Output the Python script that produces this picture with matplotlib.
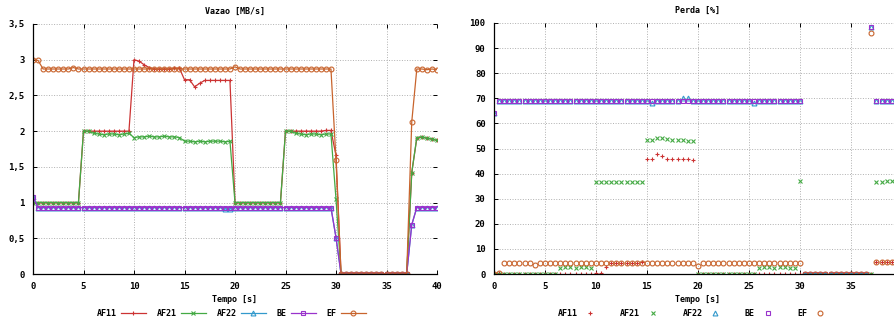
import numpy as np
import matplotlib
matplotlib.use("Agg")
import matplotlib.pyplot as plt
from matplotlib.ticker import FuncFormatter

plt.rcParams['font.family'] = ['DejaVu Sans Mono']
plt.rcParams['font.weight'] = 'bold'

# amostras a cada 0,5 s (0 .. 40 s)
tempo = np.arange(0, 40.5, 0.5)
classes = ['AF11', 'AF21', 'AF22', 'BE', 'EF']

# Vazao [MB/s]
vaz_af11 = [1.0, 1.0, 1.0, 1.0, 1.0, 1.0, 1.0, 1.0, 1.0, 1.0,
            2.0, 2.0, 2.0, 2.0, 2.0, 2.0, 2.0, 2.0, 2.0, 2.0,
            3.0, 2.98, 2.93, 2.89, 2.87, 2.87, 2.87, 2.87, 2.88, 2.88,
            2.72, 2.72, 2.62, 2.67, 2.71, 2.71, 2.71, 2.71, 2.71, 2.71,
            1.0, 1.0, 1.0, 1.0, 1.0, 1.0, 1.0, 1.0, 1.0, 1.0,
            2.0, 2.0, 2.0, 2.0, 2.0, 2.0, 2.0, 2.0, 2.01, 2.01,
            1.66, 0, 0, 0, 0, 0, 0, 0, 0, 0,
            0, 0, 0, 0, 0, 1.42, 1.90, 1.92, 1.90, 1.89,
            1.87]
vaz_af21 = [1.0, 1.0, 1.0, 1.0, 1.0, 1.0, 1.0, 1.0, 1.0, 1.0,
            2.0, 2.0, 1.97, 1.96, 1.95, 1.96, 1.96, 1.95, 1.96, 1.97,
            1.91, 1.92, 1.92, 1.93, 1.92, 1.92, 1.93, 1.92, 1.92, 1.91,
            1.86, 1.86, 1.85, 1.86, 1.85, 1.86, 1.86, 1.86, 1.85, 1.86,
            1.0, 1.0, 1.0, 1.0, 1.0, 1.0, 1.0, 1.0, 1.0, 1.0,
            2.0, 2.0, 1.97, 1.96, 1.95, 1.96, 1.96, 1.95, 1.96, 1.96,
            1.05, 0, 0, 0, 0, 0, 0, 0, 0, 0,
            0, 0, 0, 0, 0, 1.42, 1.91, 1.92, 1.90, 1.89,
            1.87]
vaz_af22 = [1.08, 0.93, 0.93, 0.93, 0.93, 0.93, 0.93, 0.93, 0.93, 0.93,
            0.93, 0.93, 0.93, 0.93, 0.93, 0.93, 0.93, 0.93, 0.93, 0.93,
            0.93, 0.93, 0.93, 0.93, 0.93, 0.93, 0.93, 0.93, 0.93, 0.93,
            0.93, 0.93, 0.93, 0.93, 0.93, 0.93, 0.93, 0.93, 0.91, 0.91,
            0.93, 0.93, 0.93, 0.93, 0.93, 0.93, 0.93, 0.93, 0.93, 0.93,
            0.93, 0.93, 0.93, 0.93, 0.93, 0.93, 0.93, 0.93, 0.93, 0.93,
            0.51, 0, 0, 0, 0, 0, 0, 0, 0, 0,
            0, 0, 0, 0, 0, 0.69, 0.93, 0.93, 0.93, 0.93,
            0.93]
vaz_be = [1.08, 0.93, 0.93, 0.93, 0.93, 0.93, 0.93, 0.93, 0.93, 0.93,
          0.93, 0.93, 0.93, 0.93, 0.93, 0.93, 0.93, 0.93, 0.93, 0.93,
          0.93, 0.93, 0.93, 0.93, 0.93, 0.93, 0.93, 0.93, 0.93, 0.93,
          0.93, 0.93, 0.93, 0.93, 0.93, 0.93, 0.93, 0.93, 0.93, 0.93,
          0.93, 0.93, 0.93, 0.93, 0.93, 0.93, 0.93, 0.93, 0.93, 0.93,
          0.93, 0.93, 0.93, 0.93, 0.93, 0.93, 0.93, 0.93, 0.93, 0.93,
          0.51, 0, 0, 0, 0, 0, 0, 0, 0, 0,
          0, 0, 0, 0, 0, 0.69, 0.93, 0.93, 0.93, 0.93,
          0.93]
vaz_ef = [3.0, 2.99, 2.87, 2.87, 2.87, 2.87, 2.87, 2.87, 2.89, 2.87,
          2.87, 2.87, 2.87, 2.87, 2.87, 2.87, 2.87, 2.87, 2.87, 2.87,
          2.87, 2.87, 2.87, 2.87, 2.87, 2.87, 2.87, 2.87, 2.87, 2.87,
          2.87, 2.87, 2.87, 2.87, 2.87, 2.87, 2.87, 2.87, 2.87, 2.87,
          2.90, 2.87, 2.87, 2.87, 2.87, 2.87, 2.87, 2.87, 2.87, 2.87,
          2.87, 2.87, 2.87, 2.87, 2.87, 2.87, 2.87, 2.87, 2.87, 2.87,
          1.60, 0, 0, 0, 0, 0, 0, 0, 0, 0,
          0, 0, 0, 0, 0, 2.13, 2.87, 2.87, 2.86, 2.87,
          2.86]

# Perda [%]
per_af11 = [0.5, 0.5, 0, 0, 0, 0, 0, 0, 0, 0,
            0, 0, 0, 0, 0, 0, 0, 0, 0, 0,
            0.5, 0.5, 2.7, 4.5, 4.5, 4.5, 4.5, 4.5, 4.5, 4.8,
            45.8, 45.8, 47.7, 47.0, 45.8, 45.8, 45.8, 45.8, 45.8, 45.4,
            0, 0, 0, 0, 0, 0, 0, 0, 0, 0,
            0, 0, 0, 0, 0, 0, 0, 0, 0, 0,
            0, 0, 0, 0, 0, 0, 0, 0, 0, 0,
            0, 0, 0, 0, 0, 4.6, 4.6, 4.6, 4.6, 4.6,
            4.6]
per_af21 = [0, 0, 0, 0, 0, 0, 0, 0, 0, 0,
            0, 0, 0, 2.4, 2.6, 2.7, 2.5, 2.6, 2.7, 2.5,
            36.5, 36.5, 36.5, 36.5, 36.5, 36.5, 36.5, 36.5, 36.5, 36.5,
            53.5, 53.5, 54.0, 54.2, 53.8, 53.5, 53.3, 53.2, 53.0, 53.0,
            0, 0, 0, 0, 0, 0, 0, 0, 0, 0,
            0, 0, 2.5, 2.7, 2.6, 2.5, 2.7, 2.6, 2.5, 2.4,
            37.0, 0, 0, 0, 0, 0, 0, 0, 0, 0,
            0, 0, 0, 0, 0, 36.6, 36.8, 37.0, 37.0, 36.8,
            37.0]
per_af22 = [64, 69, 69, 69, 69, 69, 69, 69, 69, 69,
            69, 69, 69, 69, 69, 69, 69, 69, 69, 69,
            69, 69, 69, 69, 69, 69, 69, 69, 69, 69,
            69, 68.3, 69, 69, 69, 69, 69, 70.2, 70.0, 69,
            69, 69, 69, 69, 69, 69, 69, 69, 69, 69,
            69, 68.3, 69, 69, 69, 69, 69, 69, 69, 69,
            69, 0, 0, 0, 0, 0, 0, 0, 0, 0,
            0, 0, 0, 0, 98.5, 69, 69, 69, 69, 69,
            69]
per_be = [64, 69, 69, 69, 69, 69, 69, 69, 69, 69,
          69, 69, 69, 69, 69, 69, 69, 69, 69, 69,
          69, 69, 69, 69, 69, 69, 69, 69, 69, 69,
          69, 69, 69, 69, 69, 69, 69, 69, 69, 69,
          69, 69, 69, 69, 69, 69, 69, 69, 69, 69,
          69, 69, 69, 69, 69, 69, 69, 69, 69, 69,
          69, 0, 0, 0, 0, 0, 0, 0, 0, 0,
          0, 0, 0, 0, 98.5, 69, 69, 69, 69, 69,
          69]
per_ef = [0, 0.3, 4.5, 4.5, 4.5, 4.5, 4.5, 4.5, 3.5, 4.5,
          4.5, 4.5, 4.5, 4.5, 4.5, 4.5, 4.5, 4.5, 4.5, 4.5,
          4.5, 4.5, 4.5, 4.5, 4.5, 4.5, 4.5, 4.5, 4.5, 4.5,
          4.5, 4.5, 4.5, 4.5, 4.5, 4.5, 4.5, 4.5, 4.5, 4.5,
          3.2, 4.5, 4.5, 4.5, 4.5, 4.5, 4.5, 4.5, 4.5, 4.5,
          4.5, 4.5, 4.5, 4.5, 4.5, 4.5, 4.5, 4.5, 4.5, 4.5,
          4.3, 0, 0, 0, 0, 0, 0, 0, 0, 0,
          0, 0, 0, 0, 96.0, 4.6, 4.6, 4.6, 4.6, 4.6,
          4.6]

cores = ['#cc3333', '#44aa44', '#3399cc', '#9933cc', '#c8642d']
marcadores = ['+', 'x', '^', 's', 'o']

fig = plt.figure(figsize=(8.95, 3.21), dpi=100)
ax1 = fig.add_axes([33/895, 47/321, 404/895, 250/321])
ax2 = fig.add_axes([494/895, 47/321, 408/895, 251/321])

vazao = [vaz_af11, vaz_af21, vaz_af22, vaz_be, vaz_ef]
perda = [per_af11, per_af21, per_af22, per_be, per_ef]

h1 = []
for nome, y, c, m in zip(classes, vazao, cores, marcadores):
    ln, = ax1.plot(tempo, y, color=c, marker=m, markersize=3.5, lw=0.9,
                   markerfacecolor='none', markeredgewidth=0.8, label=nome)
    h1.append(ln)

h2 = []
for nome, y, c, m in zip(classes, perda, cores, marcadores):
    ln, = ax2.plot(tempo, y, color=c, marker=m, markersize=3.5, ls='none',
                   markerfacecolor='none', markeredgewidth=0.8, label=nome)
    h2.append(ln)

virgula = FuncFormatter(lambda v, p: ('%g' % v).replace('.', ','))

ax1.set_xlim(0, 40)
ax1.set_ylim(0, 3.5)
ax1.set_xticks(np.arange(0, 41, 5))
ax1.set_yticks(np.arange(0, 3.51, 0.5))
ax1.yaxis.set_major_formatter(virgula)
ax1.set_title('Vazao [MB/s]', fontsize=6, weight='bold', pad=7)

# o grafico da direita esta cortado na borda: o rotulo 40 nao aparece
ax2.set_xlim(0, 40)
ax2.set_ylim(0, 100)
ax2.set_xticks(np.arange(0, 41, 5))
ax2.set_xticklabels(['0', '5', '10', '15', '20', '25', '30', '35', ''])
ax2.set_yticks(np.arange(0, 101, 10))
ax2.set_title('Perda [%]', fontsize=6, weight='bold', pad=7)

for ax in (ax1, ax2):
    ax.set_xlabel('Tempo [s]', fontsize=6, weight='bold', labelpad=3)
    ax.grid(True, color='#b0b0b0', ls=':', lw=0.7)
    ax.set_axisbelow(True)
    ax.spines['top'].set_visible(False)
    ax.spines['right'].set_visible(False)
    ax.spines['left'].set_linewidth(0.9)
    ax.spines['bottom'].set_linewidth(0.9)
    ax.tick_params(direction='in', top=True, right=True, length=3,
                   width=0.7, labelsize=6.5, pad=6)

fig.legend(handles=h1, loc='center', bbox_to_anchor=(231/895, 8/321),
           ncol=5, frameon=False, markerfirst=False, fontsize=6,
           handlelength=3.0, columnspacing=1.3, handletextpad=0.5)
fig.legend(handles=h2, loc='center', bbox_to_anchor=(692/895, 8/321),
           ncol=5, frameon=False, markerfirst=False, fontsize=6,
           handlelength=1.5, columnspacing=2.8, handletextpad=0.8)

plt.savefig('out.png', dpi=100)
